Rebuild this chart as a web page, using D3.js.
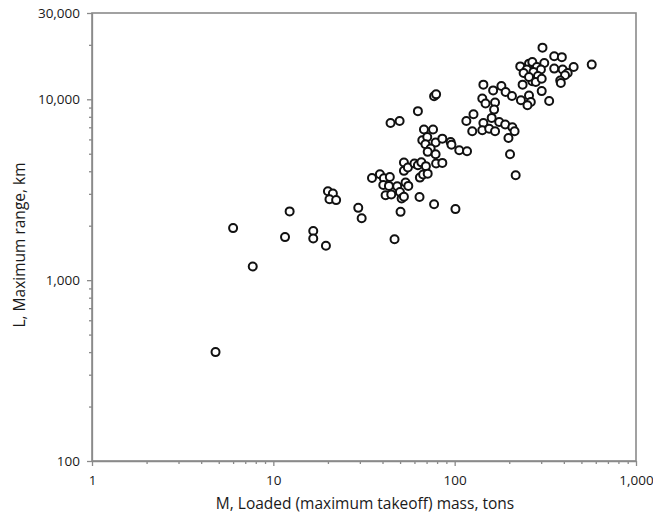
<!DOCTYPE html>
<meta charset="utf-8">
<style>
    body { margin: 0; background: #fff; }
    .axis text { font: 13.5px "Open Sans", sans-serif; fill: #1a1a1a; }
    .axis path, .axis line { stroke: #8a8a8a; stroke-width: 1.3px; }
    .frame { fill: none; stroke: #8a8a8a; stroke-width: 1.6px; }
    .dot { fill: #fff; stroke: #111; stroke-width: 2px; }
    .title { font: 15.5px "Open Sans", sans-serif; fill: #1a1a1a; text-anchor: middle; }
</style>
<svg width="653" height="515"></svg>
<script src="https://d3js.org/d3.v7.min.js"></script>
<script>

    // loaded mass (tons) and maximum range (km)
    var mass = [4.8, 6, 7.7, 11.6, 12.3, 16.6, 16.6, 19.5, 20, 21.3, 20.4, 22.2, 29.4, 30.7,
        35, 38.7, 40.7, 43.9, 40.4, 43.4, 41.6, 44.7, 48.2, 49.9, 51, 52.5, 53.6, 55.5, 46.6, 50.3,
        64, 77, 101, 52.5, 52.5, 55.2, 60, 62.7, 65.5, 69.4, 64.3, 67, 71, 79, 85.5,
        44.3, 49.7, 62.7, 77, 79, 67.7, 76, 66.3, 70.6, 69, 78.5, 73.7, 71, 78.5, 85.5, 95, 96, 106, 117,
        144, 163, 181, 191, 207, 237, 232, 257, 263, 252, 302, 332, 268, 142, 148, 167, 165, 127, 116,
        125, 144, 160, 142, 155, 167, 176, 190, 208, 214, 198, 202, 217,
        305, 354, 390, 570, 453, 354, 394, 420, 406, 382, 385, 230, 257, 268, 250, 284, 312, 299, 272,
        240, 257, 288, 280, 302];
    var range = [400, 1940, 1190, 1730, 2400, 1870, 1700, 1550, 3100, 3010, 2800, 2770, 2510, 2200,
        3670, 3850, 3660, 3720, 3360, 3320, 2950, 2975, 3300, 3075, 2830, 2890, 3470, 3320, 1685, 2385,
        2885, 2630, 2470, 4470, 4020, 4200, 4415, 4320, 4480, 4270, 3690, 3840, 3880, 4420, 4450,
        7400, 7590, 8600, 10400, 10650, 6800, 6800, 5930, 6190, 5640, 5770, 5340, 5120, 4970, 6060, 5810, 5600, 5230, 5165,
        12050, 11200, 11850, 10970, 10430, 12050, 9870, 10500, 9660, 9270, 11100, 9780, 12600, 10100, 9470, 9590, 8770, 8260, 7590,
        6660, 7400, 7890, 6740, 6880, 6660, 7490, 7250, 7000, 6660, 6110, 4970, 3800,
        19300, 17300, 17100, 15550, 15070, 14780, 14600, 13980, 13570, 12700, 12300, 15200, 15740, 16070, 14600, 15070, 15870, 14600, 14150,
        13980, 13290, 13460, 12470, 13000];

    var xMajor = [1, 10, 100, 1000];
    var yMajor = [100, 1000, 10000, 30000];
    var xMinor = [2, 3, 4, 5, 6, 7, 8, 9, 20, 30, 40, 50, 60, 70, 80, 90, 200, 300, 400, 500, 600, 700, 800, 900];
    var yMinor = [200, 300, 400, 500, 600, 700, 800, 900, 2000, 3000, 4000, 5000, 6000, 7000, 8000, 9000, 20000];

    var svg = d3.select("svg"),
        plotL = 92, plotR = 636, plotT = 13, plotB = 461;

    var x = d3.scaleLog().domain([1, 1000]).range([plotL, plotR]),
        y = d3.scaleLog().domain([100, 30000]).range([plotB, plotT]);

    var fmt = d3.format(",");

    svg.append("rect").attr("class", "frame")
        .attr("x", plotL).attr("y", plotT)
        .attr("width", plotR - plotL).attr("height", plotB - plotT);

    svg.append("g").attr("class", "axis")
        .attr("transform", "translate(0," + plotB + ")")
        .call(d3.axisBottom(x).tickValues(xMinor).tickSize(3).tickFormat(""))
        .call(function (g) { g.select(".domain").remove(); });

    svg.append("g").attr("class", "axis")
        .attr("transform", "translate(" + plotL + ",0)")
        .call(d3.axisLeft(y).tickValues(yMinor).tickSize(3).tickFormat(""))
        .call(function (g) { g.select(".domain").remove(); });

    svg.append("g").attr("class", "axis")
        .attr("transform", "translate(0," + plotB + ")")
        .call(d3.axisBottom(x).tickValues(xMajor).tickSize(5).tickSizeOuter(0).tickPadding(9).tickFormat(fmt));

    svg.append("g").attr("class", "axis")
        .attr("transform", "translate(" + plotL + ",0)")
        .call(d3.axisLeft(y).tickValues(yMajor).tickSize(5).tickSizeOuter(0).tickPadding(7).tickFormat(fmt));

    var points = mass.map(function (m, i) { return [m, range[i]]; });

    svg.append("g").selectAll("circle")
        .data(points)
        .enter().append("circle")
        .attr("class", "dot")
        .attr("cx", function (d) { return x(d[0]); })
        .attr("cy", function (d) { return y(d[1]); })
        .attr("r", 4);

    svg.append("text").attr("class", "title")
        .attr("x", 365).attr("y", 509)
        .text("M, Loaded (maximum takeoff) mass, tons");

    svg.append("text").attr("class", "title")
        .attr("transform", "translate(25,245) rotate(-90)")
        .text("L, Maximum range, km");

</script>
